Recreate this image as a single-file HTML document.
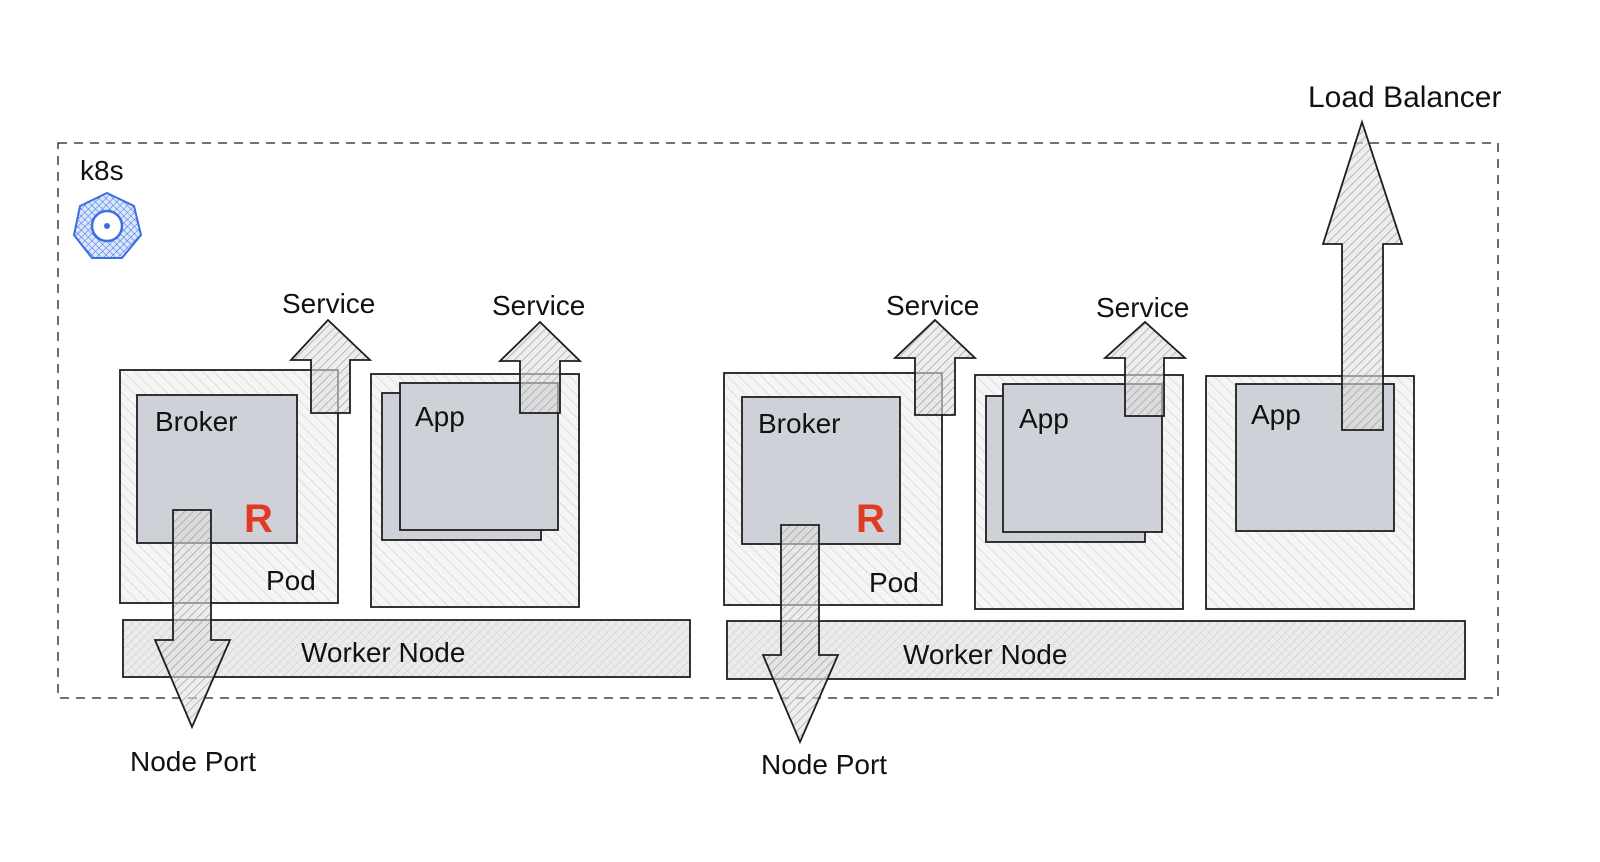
<!DOCTYPE html>
<html><head><meta charset="utf-8"><style>
html,body{margin:0;padding:0;background:#fff;}
svg{display:block;}
text{font-family:"Liberation Sans",sans-serif;font-size:28px;fill:#111;}
</style></head><body>
<svg width="1600" height="862" viewBox="0 0 1600 862" xmlns="http://www.w3.org/2000/svg">
<defs>
<pattern id="h" width="8" height="8" patternUnits="userSpaceOnUse" patternTransform="rotate(-45)">
<rect width="8" height="8" fill="#f5f5f5"/><line x1="0" y1="0" x2="0" y2="8" stroke="#d6d6d6" stroke-width="1.5"/></pattern>
<pattern id="w" width="6" height="6" patternUnits="userSpaceOnUse" patternTransform="rotate(45)">
<rect width="6" height="6" fill="#ececec"/><line x1="0" y1="0" x2="0" y2="6" stroke="#cacaca" stroke-width="1.2"/><line x1="0" y1="0" x2="6" y2="0" stroke="#d8d8d8" stroke-width="1"/></pattern>
<pattern id="a" width="6" height="6" patternUnits="userSpaceOnUse" patternTransform="rotate(45)">
<rect width="6" height="6" fill="rgba(225,225,225,0.6)"/><line x1="0" y1="0" x2="0" y2="6" stroke="#9a9a9a" stroke-width="1.3"/></pattern>
<pattern id="k" width="5" height="5" patternUnits="userSpaceOnUse" patternTransform="rotate(45)">
<rect width="5" height="5" fill="#dbe6fb"/><line x1="0" y1="0" x2="0" y2="5" stroke="#3b6fe0" stroke-width="1"/><line x1="0" y1="0" x2="5" y2="0" stroke="#3b6fe0" stroke-width="1"/></pattern>
</defs>
<g stroke="#1e1e1e" stroke-width="1.8" fill="none">
<rect x="58" y="143" width="1440" height="555" stroke-dasharray="9 7" stroke-width="1.3"/>
<rect x="120" y="370" width="218" height="233" fill="url(#h)"/>
<rect x="137" y="395" width="160" height="148" fill="#ced2d8"/>
<rect x="371" y="374" width="208" height="233" fill="url(#h)"/>
<rect x="382" y="393" width="159" height="147" fill="#ced2d8"/>
<rect x="400" y="383" width="158" height="147" fill="#ced2d8"/>
<rect x="123" y="620" width="567" height="57" fill="url(#w)"/>
<rect x="724" y="373" width="218" height="232" fill="url(#h)"/>
<rect x="742" y="397" width="158" height="147" fill="#ced2d8"/>
<rect x="975" y="375" width="208" height="234" fill="url(#h)"/>
<rect x="986" y="396" width="159" height="146" fill="#ced2d8"/>
<rect x="1003" y="384" width="159" height="148" fill="#ced2d8"/>
<rect x="1206" y="376" width="208" height="233" fill="url(#h)"/>
<rect x="1236" y="384" width="158" height="147" fill="#ced2d8"/>
<rect x="727" y="621" width="738" height="58" fill="url(#w)"/>
<polygon points="311,413 350,413 350,360 370,360 328,320 291,360 311,360" fill="url(#a)"/>
<polygon points="520,413 560,413 560,361 580,361 540,322 500,361 520,361" fill="url(#a)"/>
<polygon points="915,415 955,415 955,358 975,358 935,320 895,358 915,358" fill="url(#a)"/>
<polygon points="1125,416 1164,416 1164,358 1185,358 1145,322 1105,358 1125,358" fill="url(#a)"/>
<polygon points="1342,430 1383,430 1383,244 1402,244 1362,122 1323,244 1342,244" fill="url(#a)"/>
<polygon points="173,510 211,510 211,640 230,640 192,727 155,640 173,640" fill="url(#a)"/>
<polygon points="781,525 819,525 819,655 838,655 800,742 763,655 781,655" fill="url(#a)"/>
</g>
<polygon points="107,193 134,206 141,235 122,258 92,258 74,235 80,206" fill="url(#k)" stroke="#3b6fe0" stroke-width="2"/>
<circle cx="107" cy="226" r="15" fill="#fff" stroke="#3b6fe0" stroke-width="2.5"/>
<circle cx="107" cy="226" r="3" fill="#3b6fe0"/>
<text x="244" y="532" style="font-size:40px;font-weight:bold;fill:#e03a24">R</text>
<text x="856" y="532" style="font-size:40px;font-weight:bold;fill:#e03a24">R</text>
<text x="80" y="180">k8s</text>
<text x="282" y="313">Service</text>
<text x="492" y="315">Service</text>
<text x="886" y="315">Service</text>
<text x="1096" y="317">Service</text>
<text x="1308" y="107" style="font-size:30px">Load Balancer</text>
<text x="155" y="431">Broker</text>
<text x="758" y="433">Broker</text>
<text x="415" y="426">App</text>
<text x="1019" y="428">App</text>
<text x="1251" y="424">App</text>
<text x="266" y="590">Pod</text>
<text x="869" y="592">Pod</text>
<text x="301" y="662">Worker Node</text>
<text x="903" y="664">Worker Node</text>
<text x="130" y="771">Node Port</text>
<text x="761" y="774">Node Port</text>
</svg>
</body></html>
